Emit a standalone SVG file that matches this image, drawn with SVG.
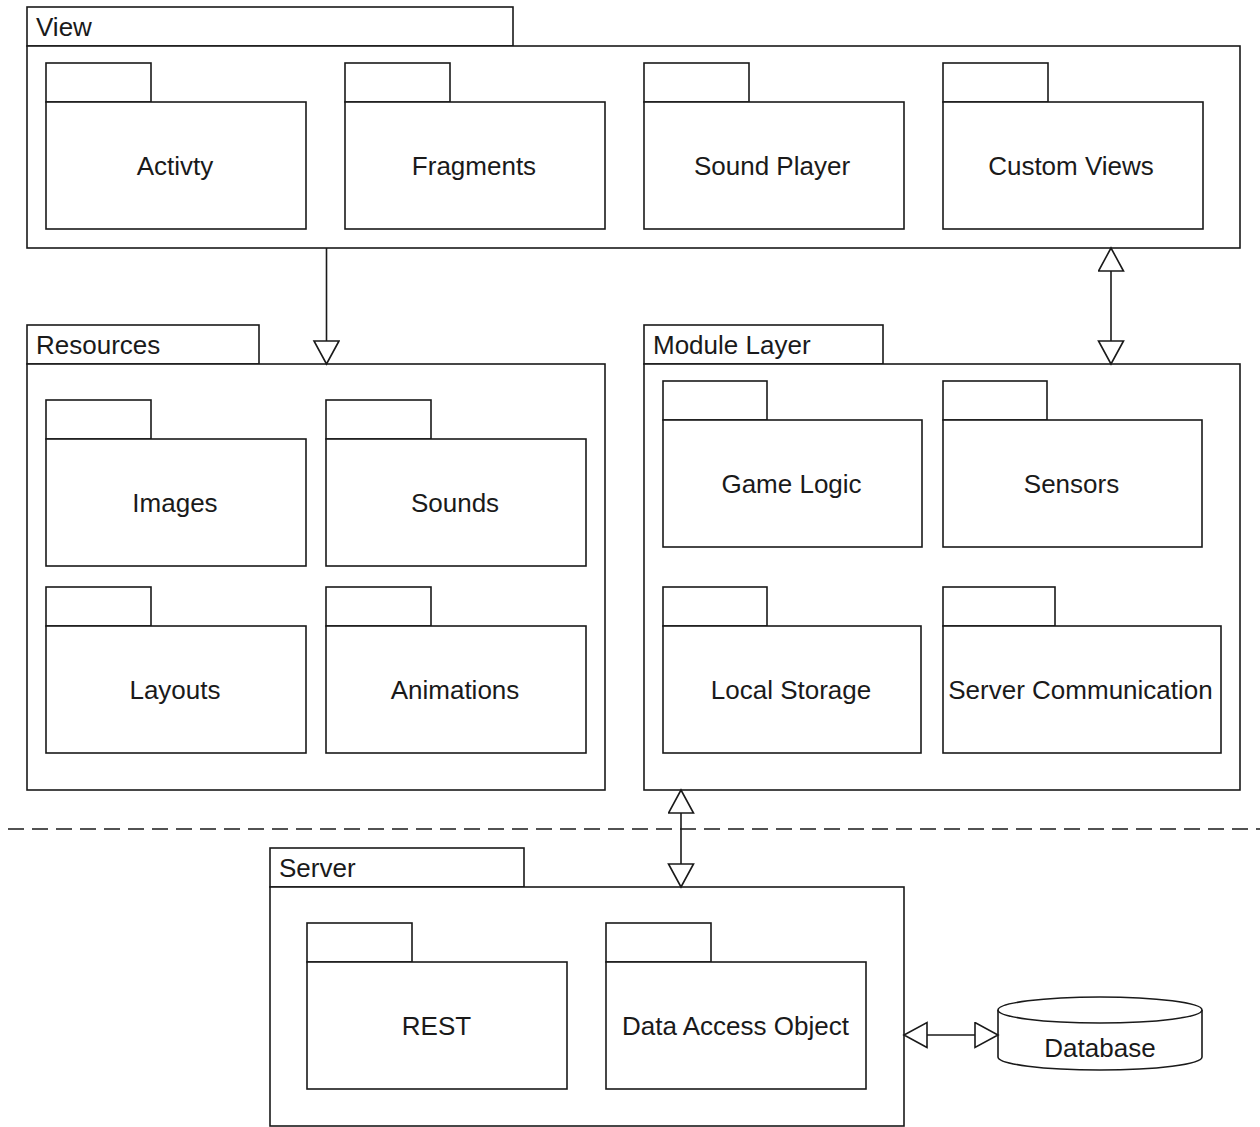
<svg xmlns="http://www.w3.org/2000/svg" width="1260" height="1127" viewBox="0 0 1260 1127">
<style>
  .box { fill: #ffffff; stroke: #1a1a1a; stroke-width: 1.6; }
  .lbl { font-family: "Liberation Sans", Arial, sans-serif; font-size: 26px; fill: #1a1a1a; }
  .c { text-anchor: middle; }
  .conn { fill: none; stroke: #1a1a1a; stroke-width: 1.6; }
  .dash { fill: none; stroke: #1a1a1a; stroke-width: 1.6; stroke-dasharray: 16 8; }
</style>
<defs>
  <marker id="tri" markerUnits="userSpaceOnUse" markerWidth="26" markerHeight="28" viewBox="-1 -1 26 28" refX="23" refY="12.5" orient="auto-start-reverse">
    <path d="M0,0 L23,12.5 L0,25 Z" fill="#ffffff" stroke="#1a1a1a" stroke-width="1.6"/>
  </marker>
</defs>
<rect width="1260" height="1127" fill="#ffffff"/>

<!-- View -->
<g id="view">
  <rect class="box" x="27" y="7" width="486" height="39"/>
  <rect class="box" x="27" y="46" width="1213" height="202"/>
  <text class="lbl" x="36" y="36">View</text>
</g>
<g id="activity">
  <rect class="box" x="46" y="63" width="105" height="39"/>
  <rect class="box" x="46" y="102" width="260" height="127"/>
  <text class="lbl c" x="175" y="174.5">Activty</text>
</g>
<g id="fragments">
  <rect class="box" x="345" y="63" width="105" height="39"/>
  <rect class="box" x="345" y="102" width="260" height="127"/>
  <text class="lbl c" x="474" y="174.5">Fragments</text>
</g>
<g id="soundplayer">
  <rect class="box" x="644" y="63" width="105" height="39"/>
  <rect class="box" x="644" y="102" width="260" height="127"/>
  <text class="lbl c" x="772" y="174.5">Sound Player</text>
</g>
<g id="customviews">
  <rect class="box" x="943" y="63" width="105" height="39"/>
  <rect class="box" x="943" y="102" width="260" height="127"/>
  <text class="lbl c" x="1071" y="174.5">Custom Views</text>
</g>

<!-- Resources -->
<g id="resources">
  <rect class="box" x="27" y="325" width="232" height="39"/>
  <rect class="box" x="27" y="364" width="578" height="426"/>
  <text class="lbl" x="36" y="354">Resources</text>
</g>
<g id="images">
  <rect class="box" x="46" y="400" width="105" height="39"/>
  <rect class="box" x="46" y="439" width="260" height="127"/>
  <text class="lbl c" x="175" y="511.5">Images</text>
</g>
<g id="sounds">
  <rect class="box" x="326" y="400" width="105" height="39"/>
  <rect class="box" x="326" y="439" width="260" height="127"/>
  <text class="lbl c" x="455" y="511.5">Sounds</text>
</g>
<g id="layouts">
  <rect class="box" x="46" y="587" width="105" height="39"/>
  <rect class="box" x="46" y="626" width="260" height="127"/>
  <text class="lbl c" x="175" y="698.5">Layouts</text>
</g>
<g id="animations">
  <rect class="box" x="326" y="587" width="105" height="39"/>
  <rect class="box" x="326" y="626" width="260" height="127"/>
  <text class="lbl c" x="455" y="698.5">Animations</text>
</g>

<!-- Module Layer -->
<g id="modulelayer">
  <rect class="box" x="644" y="325" width="239" height="39"/>
  <rect class="box" x="644" y="364" width="596" height="426"/>
  <text class="lbl" x="653" y="354">Module Layer</text>
</g>
<g id="gamelogic">
  <rect class="box" x="663" y="381" width="104" height="39"/>
  <rect class="box" x="663" y="420" width="259" height="127"/>
  <text class="lbl c" x="791.5" y="492.5">Game Logic</text>
</g>
<g id="sensors">
  <rect class="box" x="943" y="381" width="104" height="39"/>
  <rect class="box" x="943" y="420" width="259" height="127"/>
  <text class="lbl c" x="1071.5" y="492.5">Sensors</text>
</g>
<g id="localstorage">
  <rect class="box" x="663" y="587" width="104" height="39"/>
  <rect class="box" x="663" y="626" width="258" height="127"/>
  <text class="lbl c" x="791" y="698.5">Local Storage</text>
</g>
<g id="servercommunication">
  <rect class="box" x="943" y="587" width="112" height="39"/>
  <rect class="box" x="943" y="626" width="278" height="127"/>
  <text class="lbl c" x="1080.5" y="698.5">Server Communication</text>
</g>

<!-- Server -->
<g id="server">
  <rect class="box" x="270" y="848" width="254" height="39"/>
  <rect class="box" x="270" y="887" width="634" height="239"/>
  <text class="lbl" x="279" y="877">Server</text>
</g>
<g id="rest">
  <rect class="box" x="307" y="923" width="105" height="39"/>
  <rect class="box" x="307" y="962" width="260" height="127"/>
  <text class="lbl c" x="436.5" y="1034.5">REST</text>
</g>
<g id="dao">
  <rect class="box" x="606" y="923" width="105" height="39"/>
  <rect class="box" x="606" y="962" width="260" height="127"/>
  <text class="lbl c" x="735.5" y="1034.5">Data Access Object</text>
</g>

<!-- Database -->
<g id="database">
  <path class="box" d="M998,1010 A102,13 0 0 1 1202,1010 V1057 A102,13 0 0 1 998,1057 Z"/>
  <path class="conn" d="M998,1010 A102,13 0 0 0 1202,1010"/>
  <text class="lbl c" x="1100" y="1056.5">Database</text>
</g>

<!-- Connectors -->
<g id="connectors">
  <path class="dash" d="M8,829 H1260"/>
  <path class="conn" d="M326.5,248 V364" marker-end="url(#tri)"/>
  <path class="conn" d="M1111,248 V364" marker-start="url(#tri)" marker-end="url(#tri)"/>
  <path class="conn" d="M681,790 V887" marker-start="url(#tri)" marker-end="url(#tri)"/>
  <path class="conn" d="M904,1035 H998" marker-start="url(#tri)" marker-end="url(#tri)"/>
</g>
</svg>
